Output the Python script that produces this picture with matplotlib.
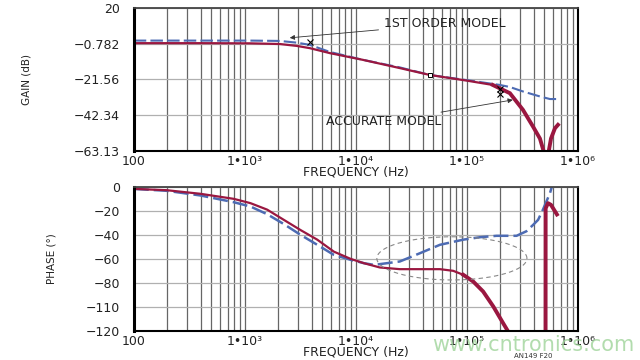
import numpy as np
import matplotlib
matplotlib.use('Agg')
import matplotlib.pyplot as plt
from matplotlib.ticker import FixedLocator, NullFormatter

plt.rcParams['font.family'] = ['DejaVu Sans']

# gain data (Hz, dB)
gain_f_red = [100, 393, 1110, 2065, 2940, 3850, 5840, 11560, 24900, 46400, 100000,
              171000, 244000, 320000, 394000, 455000, 505000, 537000, 572000, 621000, 661000]
gain_red = [-0.5, -0.5, -0.6, -1.0, -2.1, -3.4, -6.3, -10.2, -15.0, -19.0, -22.3,
            -24.8, -29.6, -39.3, -49.0, -56.0, -66.0, -66.0, -56.0, -50.0, -48.0]
gain_f_blue = [100, 393, 1110, 2065, 2940, 3850, 5840, 11560, 24900, 46400, 100000,
               198000, 244000, 320000, 455000, 560000, 647000]
gain_blue = [1.0, 1.0, 1.0, 0.8, -0.2, -1.5, -5.6, -10.2, -14.6, -19.0, -22.0,
             -24.8, -26.0, -28.6, -31.5, -33.0, -33.0]

# phase data (Hz, degrees)
phase_f_red = [100, 198, 399, 795, 1125, 1590, 2245, 3175, 4490, 6340, 8960, 11800,
               16450, 24900, 37800, 57200, 75400, 92800, 114000, 140000, 173000, 212000,
               235000, 300000, 455000, 511000, 512000, 537000, 572000, 647000]
phase_red = [-1.7, -2.8, -5.8, -10, -13.6, -19, -27.5, -36, -44, -54, -60, -63.6,
             -67.2, -68.6, -68.6, -68.6, -70, -73.3, -78.9, -87.2, -99.7, -113.6,
             -120.5, -140, -170, -180, -18, -13.6, -15, -23]
phase_f_blue = [100, 198, 399, 795, 1125, 1590, 2245, 3175, 4490, 6340, 8960, 11800,
                14500, 16450, 24900, 37800, 57200, 92800, 131000, 185000, 280000, 344000,
                395000, 438000, 484000, 560000, 595000]
phase_blue = [-1.7, -3.3, -7.2, -12.8, -16.4, -22.8, -31, -40, -48.3, -56.7, -60.8, -63.6,
              -65, -64.4, -62.2, -55.3, -48.3, -44, -42, -40.8, -40.8, -37,
              -31.7, -27.5, -19, -5.3, 3]

gain_ticks = [20, -0.782, -21.56, -42.34, -63.13]
gain_labels = ['20', '\u22120.782', '\u221221.56', '\u221242.34', '\u221263.13']
phase_ticks = [0, -20, -40, -60, -80, -100, -120]
phase_labels = ['0', '\u221220', '\u221240', '\u221260', '\u221280', '\u2212110', '\u2212120']
freq_ticks = [1e2, 1e3, 1e4, 1e5, 1e6]
freq_labels = ['100', '1\u202210\u00b3', '1\u202210\u2074', '1\u202210\u2075', '1\u202210\u2076']

RED = '#9a1740'
BLUE = '#4d6bb3'

fig = plt.figure(figsize=(6.4, 3.6), dpi=100)
ax1 = fig.add_axes([0.209, 0.581, 0.694, 0.397])
ax2 = fig.add_axes([0.209, 0.081, 0.694, 0.400])


def style_axis(ax, yticks, ylabels, ylim):
    ax.set_xscale('log')
    ax.set_xlim(100, 1e6)
    ax.set_ylim(*ylim)
    ax.xaxis.set_major_locator(FixedLocator(freq_ticks))
    minors = [m * 10 ** d for d in range(2, 6) for m in range(2, 10)]
    ax.xaxis.set_minor_locator(FixedLocator(minors))
    ax.xaxis.set_minor_formatter(NullFormatter())
    ax.set_xticklabels(freq_labels)
    ax.set_yticks(yticks)
    ax.set_yticklabels(ylabels)
    ax.tick_params(which='both', length=0, labelsize=9, colors='#222222')
    ax.tick_params(axis='y', pad=10)
    ax.tick_params(axis='x', pad=3)
    ax.grid(True, which='both', axis='x', color='#666666', lw=0.9)
    ax.grid(True, which='major', axis='y', color='#b0b0b0', lw=0.9)
    ax.set_axisbelow(True)
    ax.spines['left'].set_linewidth(2.2)
    ax.spines['bottom'].set_linewidth(1.5)
    ax.spines['right'].set_linewidth(1.5)
    ax.spines['top'].set_linewidth(1.3)
    ax.spines['top'].set_color('#444444')
    ax.set_xlabel('FREQUENCY (Hz)', fontsize=9, labelpad=-2, color='#222222')


# ---- gain panel
style_axis(ax1, gain_ticks, gain_labels, (-63.13, 20))
ax1.plot(gain_f_blue, gain_blue, color=BLUE, lw=1.5, dashes=(6, 2))
n = 11
ax1.plot(gain_f_red[:n + 1], gain_red[:n + 1], color=RED, lw=1.6)
ax1.plot(gain_f_red[n:], gain_red[n:], color=RED, lw=2.8, solid_joinstyle='miter')
ax1.set_ylabel('GAIN (dB)', fontsize=7.5, color='#222222')
ax1.yaxis.set_label_coords(-0.23, 0.5)

# pole/zero marks
ax1.plot([3850], [0.4], marker='x', ms=4, color='k', mew=0.8)
ax1.plot([46400], [-19], marker='s', ms=3.5, mfc='white', mec='k', mew=0.7)
ax1.plot([198000, 198000], [-27, -30], ls='none', marker='x', ms=4, color='k', mew=0.8)

ax1.annotate('1ST ORDER MODEL', xy=(2540, 2.6), xytext=(63400, 10.7),
             fontsize=9, ha='center', va='center', color='#222222',
             arrowprops=dict(arrowstyle='-|>', color='#333333', lw=0.6,
                             mutation_scale=7, shrinkA=2, shrinkB=0))
ax1.annotate('ACCURATE MODEL', xy=(259000, -33.5), xytext=(17900, -46.3),
             fontsize=9, ha='center', va='center', color='#222222',
             arrowprops=dict(arrowstyle='-|>', color='#333333', lw=0.6,
                             mutation_scale=7, shrinkA=2, shrinkB=0))

# ---- phase panel
style_axis(ax2, phase_ticks, phase_labels, (-120, 0))
ax2.plot(phase_f_blue, phase_blue, color=BLUE, lw=1.8, dashes=(6, 2))
m = 17
ax2.plot(phase_f_red[:m + 1], phase_red[:m + 1], color=RED, lw=1.6)
ax2.plot(phase_f_red[m:], phase_red[m:], color=RED, lw=2.8)
ax2.set_ylabel('PHASE (\u00b0)', fontsize=7.5, color='#222222')
ax2.yaxis.set_label_coords(-0.173, 0.5)

# dashed ellipse around the region of interest
t = np.linspace(0, 2 * np.pi, 200)
ax2.plot(10 ** (4.865 + 0.676 * np.cos(t)), -59.6 + 18 * np.sin(t),
         color='#888888', lw=0.8, ls=(0, (4, 3)))

fig.text(0.833, 0.042, 'www.cntronics.com', fontsize=15,
         color='#9fd49a', alpha=0.8, ha='center', va='center')
fig.text(0.833, 0.012, 'AN149 F20', fontsize=5, color='#333333', ha='center', va='center')

fig.savefig('out.png', dpi=100)
